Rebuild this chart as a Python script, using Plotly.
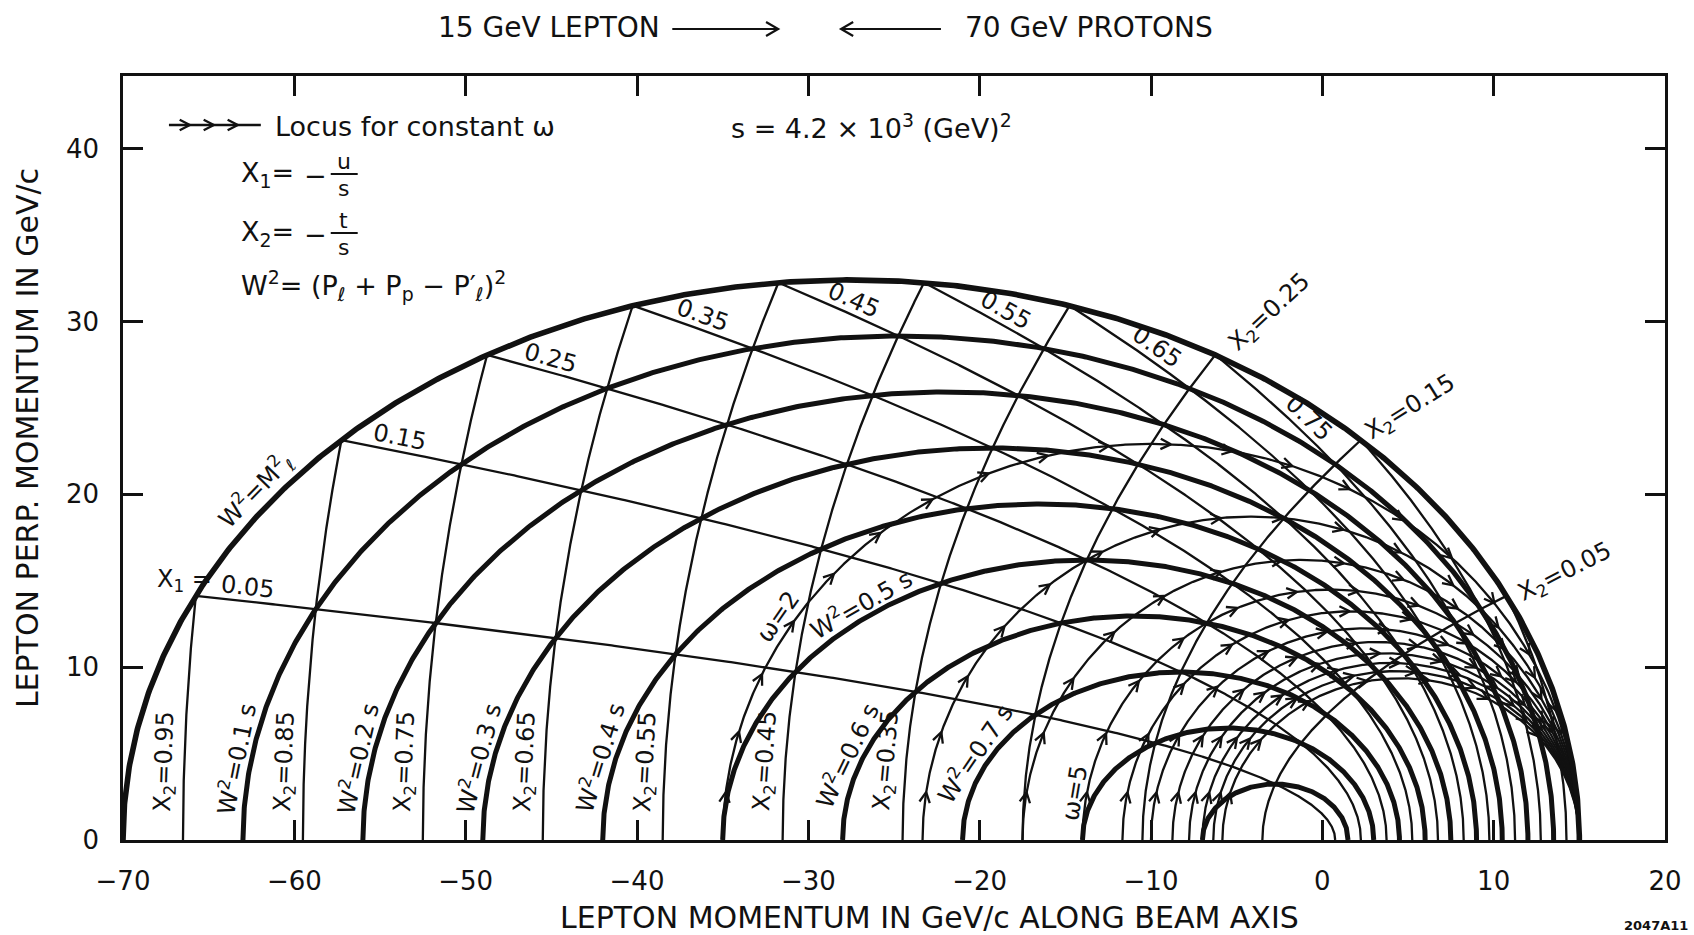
import math
import numpy as np
import plotly.graph_objects as go

# ---- collider kinematics ---------------------------------------------------
E_LEPTON = 15.0                     # GeV, incoming lepton (moving to +z)
E_PROTON = 70.0                     # GeV, incoming protons (moving to -z)
S_CM = 4.0 * E_LEPTON * E_PROTON    # s = 4.2e3 GeV^2

X1_VALUES = [0.05, 0.15, 0.25, 0.35, 0.45, 0.55, 0.65, 0.75, 0.85, 0.95]
X2_VALUES = [0.05, 0.15, 0.25, 0.35, 0.45, 0.55, 0.65, 0.75, 0.85, 0.95]
W2_FRACTIONS = [0.1, 0.2, 0.3, 0.4, 0.5, 0.6, 0.7, 0.8, 0.9]
OMEGA_VALUES = [2, 3, 4, 5, 6, 7, 8, 9, 10, 11, 12]

X_TICKS = [-70, -60, -50, -40, -30, -20, -10, 0, 10, 20]
Y_TICKS = [0, 10, 20, 30, 40]

X1_TAGGED = [0.05, 0.15, 0.25, 0.35, 0.45, 0.55, 0.65, 0.75]
X2_FOOT_TAGGED = [0.95, 0.85, 0.75, 0.65, 0.55, 0.45, 0.35]
X2_RIM_TAGGED = [0.25, 0.15, 0.05]
W2_FOOT_TAGGED = [0.1, 0.2, 0.3, 0.4, 0.6, 0.7]
W2_ARC_TAGGED = 0.5
OMEGA_TAGGED = [2, 5]

# ---- page geometry and styling --------------------------------------------
FIG_W, FIG_H = 1694, 935
M_L, M_R, M_T, M_B = 123, 27, 76, 95
X_RANGE = (-70.0, 20.0)
Y_RANGE = (0.0, 44.2)
PLOT_W = FIG_W - M_L - M_R
PLOT_H = FIG_H - M_T - M_B
SX = PLOT_W / (X_RANGE[1] - X_RANGE[0])   # px per GeV/c, horizontal
SY = PLOT_H / (Y_RANGE[1] - Y_RANGE[0])   # px per GeV/c, vertical

INK = "#111111"
FONT = "DejaVu Sans"
THIN, THICK, RIM = 2.3, 5.0, 5.6
LABEL_SIZE = 24
TEXT_SIZE = 27
FRACTION_SIZE = 22


def to_px(pz, pt):
    return (np.asarray(pz) - X_RANGE[0]) * SX, (np.asarray(pt) - Y_RANGE[0]) * SY


def from_px(u, v):
    return X_RANGE[0] + np.asarray(u) / SX, Y_RANGE[0] + np.asarray(v) / SY


def data_x(px):
    return X_RANGE[0] + (px - M_L) / SX


def data_y(py):
    return Y_RANGE[0] + (FIG_H - M_B - py) / SY


def paper_x(px):
    return (px - M_L) / PLOT_W


def paper_y(py):
    return (FIG_H - M_B - py) / PLOT_H


def lepton_momentum(x1, x2):
    """Scattered-lepton (p_z, p_T) for x1 = -u/s, x2 = -t/s (massless)."""
    x1 = np.asarray(x1, float)
    x2 = np.asarray(x2, float)
    pz = E_LEPTON * x1 - E_PROTON * x2
    pt = np.sqrt(np.clip(S_CM * x1 * x2, 0.0, None))
    return pz, pt


T = np.linspace(0.0, 1.0, 700)
BELL = (1.0 - np.cos(np.pi * T)) / 2.0


def family_x2(a):
    return lambda q: (q, a)


def family_x1(b):
    return lambda q: (b, q)


def family_w2(f):
    tot = 1.0 - f
    return lambda q: (q, tot - q)


def family_omega(w):
    return lambda q: (1.0 - w * q, q)


def curve_x2(a):
    return lepton_momentum((1.0 - a) * T ** 2, np.full_like(T, a))


def curve_x1(b):
    return lepton_momentum(np.full_like(T, b), (1.0 - b) * T ** 2)


def curve_w2(f):
    tot = 1.0 - f
    x1 = tot * BELL
    return lepton_momentum(x1, tot - x1)


def curve_omega(w):
    x2 = (1.0 - BELL) / w
    return lepton_momentum(1.0 - w * x2, x2)


# ---- open chevrons marking the direction of the constant-omega loci --------
ARM, HALF = 11.5, 27.0


def chevron(tu, tv, du, dv, arm=ARM, half=HALF):
    a = math.radians(half)
    pts = []
    for sgn in (1.0, -1.0):
        c, s = math.cos(sgn * a), math.sin(sgn * a)
        bu = -(du * c - dv * s)
        bv = -(du * s + dv * c)
        pts.append((tu + arm * bu, tv + arm * bv))
    return [pts[0], (tu, tv), pts[1]]


def chevrons_along(pz, pt, first=48.0, step=62.0, stop=95.0):
    u, v = to_px(pz, pt)
    s = np.concatenate([[0.0], np.cumsum(np.hypot(np.diff(u), np.diff(v)))])
    out = []
    pos = first
    while pos < s[-1] - stop:
        i = int(np.searchsorted(s, pos))
        i = max(1, min(i, len(s) - 1))
        f = (pos - s[i - 1]) / max(s[i] - s[i - 1], 1e-9)
        tu = u[i - 1] + f * (u[i] - u[i - 1])
        tv = v[i - 1] + f * (v[i] - v[i - 1])
        du, dv = u[i] - u[i - 1], v[i] - v[i - 1]
        n = math.hypot(du, dv)
        out.append(chevron(tu, tv, du / n, dv / n))
        pos += step
    return out


def segments_to_xy(groups):
    xs, ys = [], []
    for g in groups:
        for (u, v) in g:
            x, y = from_px(u, v)
            xs.append(float(x))
            ys.append(float(y))
        xs.append(None)
        ys.append(None)
    return xs, ys


fig = go.Figure()


def add_lines(curves, width):
    xs, ys = [], []
    for pz, pt in curves:
        xs += list(pz) + [None]
        ys += list(pt) + [None]
    fig.add_trace(go.Scatter(x=xs, y=ys, mode="lines",
                             line=dict(color=INK, width=width),
                             hoverinfo="skip", showlegend=False))


# thin grid of constant x1, x2 and the constant-omega loci
add_lines([curve_x2(a) for a in X2_VALUES], THIN)
add_lines([curve_x1(b) for b in X1_VALUES], THIN)
omega_curves = [curve_omega(w) for w in OMEGA_VALUES]
add_lines(omega_curves, THIN)

# heavy curves of constant W^2 and the elastic limit W^2 = M^2
add_lines([curve_w2(f) for f in W2_FRACTIONS], THICK)
add_lines([curve_w2(0.0)], RIM)

# arrowheads on the omega loci
arrow_groups = []
for pz, pt in omega_curves:
    arrow_groups += chevrons_along(pz, pt)
ax_, ay_ = segments_to_xy(arrow_groups)
fig.add_trace(go.Scatter(x=ax_, y=ay_, mode="lines",
                         line=dict(color=INK, width=THIN),
                         hoverinfo="skip", showlegend=False))

# key: line with arrowheads
key_y = data_y(125)
key_u0, _ = to_px(data_x(169), key_y)
key_u1, key_v = to_px(data_x(261), key_y)
key_groups = [[(float(key_u0), float(key_v)), (float(key_u1), float(key_v))]]
for sx in (190, 214, 238):
    tu, _ = to_px(data_x(sx), key_y)
    key_groups.append(chevron(float(tu), float(key_v), 1.0, 0.0))
kx, ky = segments_to_xy(key_groups)
fig.add_trace(go.Scatter(x=kx, y=ky, mode="lines",
                         line=dict(color=INK, width=THIN),
                         hoverinfo="skip", showlegend=False))

# ---- labels -----------------------------------------------------------------
notes = []


def text_note(x, y, text, size=LABEL_SIZE, angle=0, xshift=0, yshift=0,
              xanchor="center", yanchor="middle", ref="data"):
    d = dict(x=x, y=y, text=text, showarrow=False, textangle=angle,
             font=dict(family=FONT, size=size, color=INK),
             xanchor=xanchor, yanchor=yanchor, xshift=xshift, yshift=yshift,
             borderpad=0)
    if ref == "data":
        d.update(xref="x", yref="y")
    else:
        d.update(xref="paper", yref="paper")
    notes.append(d)


def tag(family, q0, eps, text, offset, size=LABEL_SIZE):
    """Label sitting beside a curve, rotated along its local direction."""
    pa = lepton_momentum(*family(q0 - eps))
    pb = lepton_momentum(*family(q0 + eps))
    p0 = lepton_momentum(*family(q0))
    ua, va = to_px(*pa)
    ub, vb = to_px(*pb)
    du, dv = float(ub - ua), float(vb - va)
    n = math.hypot(du, dv)
    du, dv = du / n, dv / n
    angle = -math.degrees(math.atan2(dv, du))
    text_note(float(p0[0]), float(p0[1]), text, size=size, angle=angle,
              xshift=-dv * offset, yshift=du * offset)


FOOT_PT = 4.5
for a in X2_FOOT_TAGGED:
    q0 = FOOT_PT ** 2 / (S_CM * a)
    tag(family_x2(a), q0, 1e-3, f"X<sub>2</sub>={a:.2f}", 19)

for f in W2_FOOT_TAGGED:
    tot = 1.0 - f
    q0 = (tot - math.sqrt(tot ** 2 - 4 * FOOT_PT ** 2 / S_CM)) / 2
    tag(family_w2(f), q0, 1e-3, f"W<sup>2</sup>={f:.1f} s", 16)

tag(family_w2(W2_ARC_TAGGED), 0.20 * (1 - W2_ARC_TAGGED), 2e-3,
    f"W<sup>2</sup>={W2_ARC_TAGGED:.1f} s", 15)

tag(family_w2(0.0), 0.1, 2e-3, "W<sup>2</sup>=M<sup>2</sup><sub>ℓ</sub>", 19)

for b in X1_TAGGED:
    q0 = (1.0 - b) - (0.04 + 0.04 * b)
    tag(family_x1(b), q0, -2e-3, f"{b:.2f}", 14)

b_pz, b_pt = lepton_momentum(X1_TAGGED[0], 1.0 - X1_TAGGED[0])
text_note(float(b_pz), float(b_pt), "X<sub>1</sub> =", size=LABEL_SIZE,
          xshift=-11, yshift=15)

OMEGA_TAG_PT = {2: 12.4, 5: 2.6}
for w in OMEGA_TAGGED:
    p = OMEGA_TAG_PT[w]
    q0 = (1 + math.sqrt(1 - 4 * w * p ** 2 / S_CM)) / (2 * w)
    tag(family_omega(w), q0, -1e-3, f"ω={w}", 16 if w == 2 else 12)

RIM_STYLE = {0.25: (55, 42, -43), 0.15: (50, 33, -32), 0.05: (59, 23, -27)}
for a in X2_RIM_TAGGED:
    pz, pt = lepton_momentum(1.0 - a, a)
    dx, dy, ang = RIM_STYLE[a]
    text_note(float(pz), float(pt), f"X<sub>2</sub>={a:.2f}", angle=ang,
              xshift=dx, yshift=dy)

# key and definitions
text_note(data_x(274), data_y(126), "Locus for constant ω", size=TEXT_SIZE,
          xanchor="left")
text_note(data_x(731), data_y(126.5),
          "s = 4.2 × 10<sup>3</sup> (GeV)<sup>2</sup>", size=TEXT_SIZE,
          xanchor="left")
FRACTION_BARS = (174, 233)
for bar_y, sym, numer in zip(FRACTION_BARS, ("1", "2"), ("u", "t")):
    text_note(data_x(240), data_y(bar_y), f"X<sub>{sym}</sub>=", size=TEXT_SIZE,
              xanchor="left")
    text_note(data_x(316), data_y(bar_y + 1), "−", size=TEXT_SIZE)
    # numerator sits on the bar, denominator hangs below it
    text_note(data_x(344), data_y(bar_y + 1), numer, size=FRACTION_SIZE,
              yanchor="bottom")
    text_note(data_x(344), data_y(bar_y + 1), "s", size=FRACTION_SIZE,
              yanchor="top")
text_note(data_x(240), data_y(285),
          "W<sup>2</sup>= (P<sub>ℓ</sub> + P<sub>p</sub> − P′<sub>ℓ</sub>)<sup>2</sup>",
          size=TEXT_SIZE, xanchor="left")

shapes = []
for py in FRACTION_BARS:
    shapes.append(dict(type="line", xref="x", yref="y",
                       x0=data_x(331), x1=data_x(358), y0=data_y(py), y1=data_y(py),
                       line=dict(color=INK, width=2)))


# beams header: text with long arrows drawn as paths on the page
def page_arrow(tail_px, tip_px, py, arm=14.0, half=30.0):
    d = 1.0 if tip_px > tail_px else -1.0
    a = math.radians(half)
    bx = tip_px - d * arm * math.cos(a)
    by0 = py - arm * math.sin(a)
    by1 = py + arm * math.sin(a)
    path = (f"M{paper_x(tail_px)},{paper_y(py)} L{paper_x(tip_px)},{paper_y(py)} "
            f"M{paper_x(bx)},{paper_y(by0)} L{paper_x(tip_px)},{paper_y(py)} "
            f"L{paper_x(bx)},{paper_y(by1)}")
    return dict(type="path", xref="paper", yref="paper", path=path,
                line=dict(color=INK, width=2.2))


text_note(paper_x(662), paper_y(28), "15 GeV LEPTON", size=28,
          xanchor="right", ref="paper")
text_note(paper_x(965), paper_y(28), "70 GeV PROTONS", size=28,
          xanchor="left", ref="paper")
shapes.append(page_arrow(673, 779, 29))
shapes.append(page_arrow(942, 842, 29))

# axis titles and drawing number
text_note(paper_x(931), paper_y(917), "LEPTON MOMENTUM IN GeV/c ALONG BEAM AXIS",
          size=30, ref="paper")
text_note(paper_x(27), paper_y(438), "LEPTON PERP. MOMENTUM IN GeV/c",
          size=30, angle=-90, ref="paper")
text_note(paper_x(1691), paper_y(926), "<b>2047A11</b>", size=13,
          xanchor="right", ref="paper")

axis_style = dict(showline=True, linecolor=INK, linewidth=2.6, mirror="allticks",
                  ticks="inside", ticklen=20, tickwidth=2.6, tickcolor=INK,
                  showgrid=False, zeroline=False, ticklabelstandoff=16,
                  tickfont=dict(family=FONT, size=26, color=INK))

fig.update_layout(
    width=FIG_W, height=FIG_H,
    margin=dict(l=M_L, r=M_R, t=M_T, b=M_B),
    paper_bgcolor="white", plot_bgcolor="white",
    showlegend=False,
    xaxis=dict(range=list(X_RANGE), tickvals=X_TICKS, **axis_style),
    yaxis=dict(range=list(Y_RANGE), tickvals=Y_TICKS, **axis_style),
    annotations=notes,
    shapes=shapes,
)

fig.write_html("out.html")
